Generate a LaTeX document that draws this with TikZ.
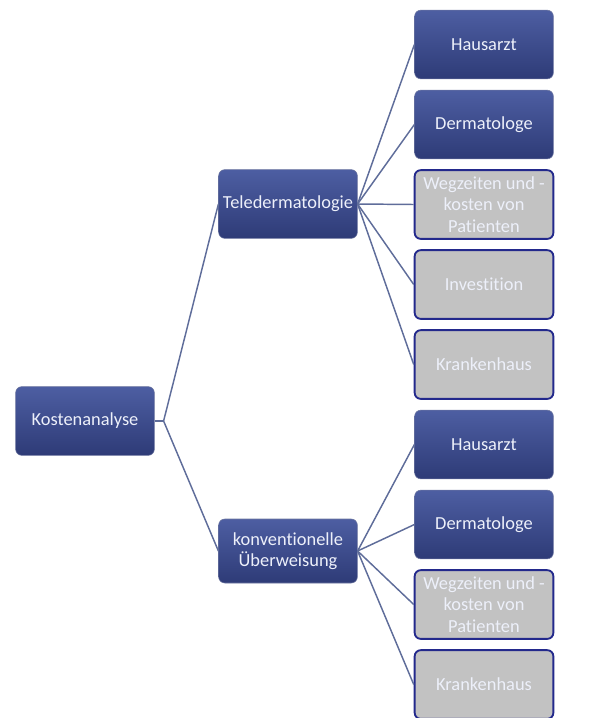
\documentclass[tikz,border=0pt]{standalone}
\usepackage{fontspec}
\setmainfont[Ligatures=NoCommon]{Carlito}
\usetikzlibrary{positioning}

\definecolor{boxtop}{HTML}{4D5EA2}
\definecolor{boxbot}{HTML}{2E3B77}
\definecolor{boxgray}{HTML}{C2C2C2}
\definecolor{grayrim}{HTML}{23298C}
\definecolor{linkcol}{HTML}{5F6D9A}
\definecolor{textcol}{HTML}{EDF0FA}

\tikzset{
  bluebox/.style={rectangle, rounded corners=4.5pt, top color=boxtop,
    bottom color=boxbot, draw=boxbot!70!white, line width=0.4pt,
    text=textcol, minimum width=104pt, minimum height=51.5pt,
    align=center, inner sep=1pt, font=\fontsize{13.8}{16}\selectfont},
  graybox/.style={bluebox, fill=boxgray, top color=boxgray,
    bottom color=boxgray, draw=grayrim, line width=1.4pt},
  link/.style={draw=linkcol, line width=1.1pt}
}

\begin{document}
\begin{tikzpicture}[x=0.75pt,y=-0.75pt]
  \useasboundingbox (0,0) rectangle (609,718);

  \node[bluebox] (kosten) at (85,421) {Kostenanalyse};
  \node[bluebox] (tele) at (288,204) {Teledermatologie};
  \node[bluebox, minimum height=48pt] (konv) at (288,551) {konventionelle\\Überweisung};

  % Teledermatologie
  \node[bluebox] (th) at (484,44.5) {Hausarzt};
  \node[bluebox] (td) at (484,124.5) {Dermatologe};
  \node[graybox] (tw) at (484,204.5) {Wegzeiten und -\\kosten von\\Patienten};
  \node[graybox] (ti) at (484,284.5) {Investition};
  \node[graybox] (tk) at (484,364.5) {Krankenhaus};

  % konventionelle Ueberweisung
  \node[bluebox] (kh) at (484,444.5) {Hausarzt};
  \node[bluebox] (kd) at (484,524.5) {Dermatologe};
  \node[graybox] (kw) at (484,604.5) {Wegzeiten und -\\kosten von\\Patienten};
  \node[graybox] (kk) at (484,684.5) {Krankenhaus};

  \draw[link] (kosten.east) -- ++(9,0) coordinate (fork);
  \draw[link] (fork) -- (tele.west);
  \draw[link] (fork) -- (konv.west);

  \foreach \n in {th,td,tw,ti,tk} {
    \draw[link] (tele.east) -- (\n.west);
  }
  \foreach \n in {kh,kd,kw,kk} {
    \draw[link] (konv.east) -- (\n.west);
  }
\end{tikzpicture}
\end{document}
